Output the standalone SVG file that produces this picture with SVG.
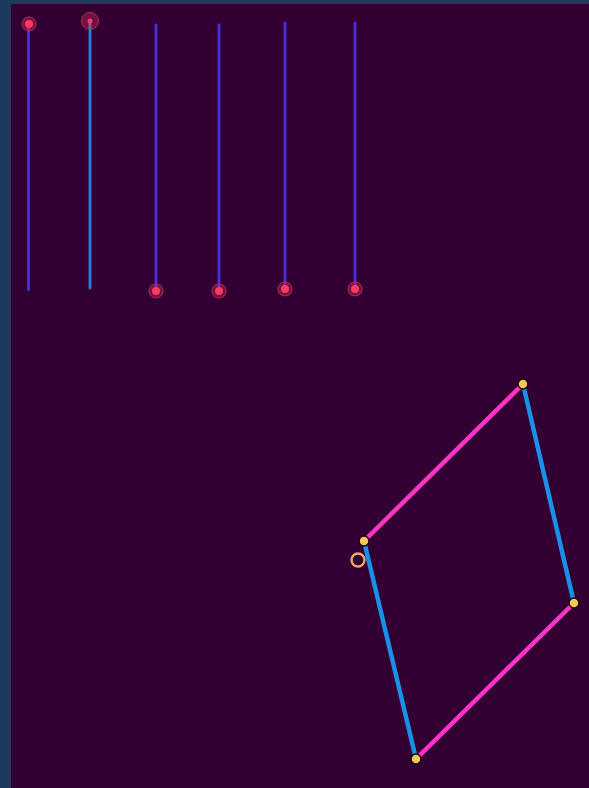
<svg xmlns="http://www.w3.org/2000/svg" width="589" height="788" viewBox="0 0 589 788">
<style>
.v{stroke:#4a30d8;stroke-width:2.8;stroke-linecap:round}
.b{stroke:#2c80d8;stroke-width:2.8;stroke-linecap:round}
.halo{fill:#e0305f;fill-opacity:0.35;stroke:#c0284f;stroke-width:1}
.core{fill:#ff3a60}
.pk{stroke:#ff33c8;stroke-width:4.5;stroke-linecap:round}
.bl{stroke:#1a90e8;stroke-width:4.5;stroke-linecap:round}
.pt{fill:#f7c65a;stroke:#1a0010;stroke-width:1.5}
</style>
<rect width="589" height="788" fill="#1d3a5c"/>
<rect x="11" y="4" width="578" height="784" fill="#330033"/>
<g id="connectors">
<line class="v" x1="28.5" y1="24" x2="28.5" y2="290"/>
<line class="b" x1="90" y1="21" x2="90" y2="288"/>
<line class="v" x1="156" y1="25" x2="156" y2="291"/>
<line class="v" x1="219" y1="25" x2="219" y2="291"/>
<line class="v" x1="285" y1="23" x2="285" y2="289"/>
<line class="v" x1="355" y1="23" x2="355" y2="289"/>
<line class="pk" x1="364" y1="541" x2="523" y2="384"/>
<line class="bl" x1="523" y1="384" x2="574" y2="603"/>
<line class="pk" x1="574" y1="603" x2="416" y2="759"/>
<line class="bl" x1="416" y1="759" x2="364" y2="541"/>
</g>
<g id="n1"><circle class="halo" cx="29" cy="24" r="7"/><circle class="core" cx="29" cy="24" r="4"/></g>
<g id="n2"><circle class="halo" cx="90" cy="21" r="8.5"/><circle class="core" cx="90" cy="21" r="2.5"/></g>
<g id="n3"><circle class="halo" cx="156" cy="291" r="7"/><circle class="core" cx="156" cy="291" r="4"/></g>
<g id="n4"><circle class="halo" cx="219" cy="291" r="7"/><circle class="core" cx="219" cy="291" r="4"/></g>
<g id="n5"><circle class="halo" cx="285" cy="289" r="7"/><circle class="core" cx="285" cy="289" r="4"/></g>
<g id="n6"><circle class="halo" cx="355" cy="289" r="7"/><circle class="core" cx="355" cy="289" r="4"/></g>
<g id="pA"><circle class="pt" cx="364" cy="541" r="5"/></g>
<g id="pB"><circle class="pt" cx="523" cy="384" r="5"/></g>
<g id="pC"><circle class="pt" cx="574" cy="603" r="5"/></g>
<g id="pD"><circle class="pt" cx="416" cy="759" r="5"/></g>
<g id="ring"><circle cx="358" cy="560" r="6.5" fill="none" stroke="#f0a868" stroke-width="2.3"/></g>
</svg>
